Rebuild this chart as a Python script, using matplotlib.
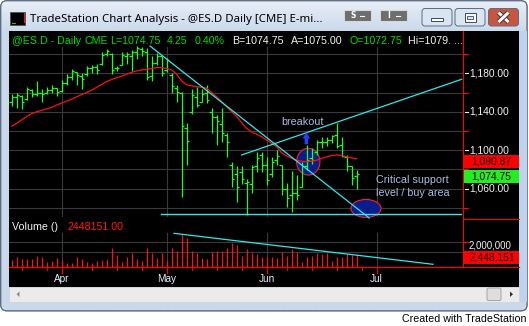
import numpy as np
import matplotlib
matplotlib.use('Agg')
import matplotlib.pyplot as plt
from matplotlib.patches import Rectangle, Ellipse, FancyBboxPatch, FancyArrowPatch, Polygon
import matplotlib.patheffects as pe

# ---------------- data ----------------
highs = [1158, 1160, 1157, 1166, 1164, 1172, 1164, 1166, 1168, 1165,
         1173, 1179, 1184, 1181, 1180, 1188, 1189, 1190, 1202, 1205,
         1201, 1188, 1202, 1202, 1204, 1208, 1207, 1206, 1198, 1201,
         1198, 1196, 1180, 1168, 1161, 1128, 1164, 1166, 1164, 1168,
         1144, 1137, 1144, 1118, 1088, 1083, 1083, 1070, 1085, 1098,
         1098, 1093, 1093, 1100, 1085, 1066, 1078, 1074, 1088, 1105,
         1102, 1111, 1114, 1114, 1116, 1128, 1114, 1095, 1083, 1079.5]
lows = [1146, 1144, 1142.5, 1152, 1155, 1156, 1150, 1158, 1159, 1156,
        1161, 1168, 1173, 1168, 1164, 1177, 1180, 1179, 1189, 1198,
        1179, 1182, 1189, 1190, 1182, 1195, 1198, 1173, 1172, 1189,
        1177, 1181, 1159, 1150, 1051, 1085, 1138, 1145, 1150, 1149,
        1118, 1105, 1109, 1093, 1062, 1046, 1065, 1033, 1055, 1077,
        1077, 1064, 1072, 1085, 1053, 1041, 1036, 1048, 1062, 1079,
        1086, 1095, 1102, 1104, 1107, 1102, 1093, 1078, 1064, 1060]
opens = [1150, 1155, 1156, 1153, 1163, 1158, 1160, 1159, 1163, 1165,
         1162, 1170, 1176, 1181, 1177, 1179, 1186, 1187, 1190, 1200,
         1200, 1186, 1189, 1198, 1198, 1202, 1205, 1202, 1177, 1191,
         1198, 1183, 1178, 1165, 1159, 1123, 1140, 1155, 1150, 1160,
         1140, 1135, 1127, 1116, 1085, 1075, 1077, 1066, 1065, 1083,
         1095, 1085, 1075, 1090, 1085, 1060, 1053, 1055, 1062, 1083,
         1092, 1098, 1108, 1109, 1111, 1116, 1105, 1093, 1083, 1072.75]
closes = [1155, 1157, 1150, 1164, 1158, 1160, 1158, 1163, 1165, 1161,
          1170, 1176, 1182, 1178, 1174, 1186, 1187, 1183, 1199, 1203,
          1183, 1186, 1199, 1200, 1202, 1206, 1203, 1176, 1191, 1198,
          1180, 1194, 1167, 1161, 1125, 1110, 1157, 1147, 1158, 1152,
          1134, 1130, 1118, 1108, 1070, 1062, 1070, 1067, 1082, 1092,
          1085, 1069, 1088, 1094, 1060, 1050, 1055, 1053, 1083, 1090,
          1090, 1108, 1109, 1111, 1115, 1104, 1094, 1083, 1071, 1074.75]
ma = [1125, 1128, 1131.5, 1135, 1138, 1140, 1141.5, 1143, 1144.5, 1147,
      1149, 1151, 1153, 1155.5, 1158, 1160, 1162.5, 1165.5, 1168.5, 1171.5,
      1173.5, 1175.5, 1177, 1179, 1181, 1182.5, 1183.5, 1184, 1185, 1186,
      1186, 1185, 1183.5, 1179, 1172, 1168, 1167, 1166, 1165.5, 1164.5,
      1160, 1155.5, 1150.5, 1145, 1140, 1135, 1128.5, 1122.5, 1119, 1116.5,
      1114, 1110.5, 1107, 1103.5, 1097, 1094, 1091.5, 1089.5, 1088.5, 1088,
      1088.5, 1089.5, 1091.5, 1093, 1094.5, 1095, 1094.5, 1093, 1092, 1090.9]
volume_m = [0.89, 1.33, 1.03, 0.97, 1.03, 1.43, 1.24, 0.67, 0.80, 1.11,
            0.89, 0.44, 0.53, 1.33, 0.97, 0.67, 0.53, 0.80, 0.89, 0.97,
            2.53, 1.60, 0.67, 1.33, 1.77, 1.03, 0.80, 2.53, 1.87, 1.11,
            1.87, 0.89, 2.53, 2.13, 4.31, 3.87, 2.13, 1.77, 1.20, 1.03,
            2.00, 2.09, 2.13, 2.53, 3.20, 2.89, 1.43, 2.40, 1.77, 1.69,
            1.24, 1.33, 1.24, 1.20, 1.91, 1.43, 2.31, 1.91, 0.67, 1.24,
            1.43, 1.77, 1.69, 1.77, 0.80, 1.24, 1.33, 1.64, 1.56, 1.64]
month_idx = [10, 31, 51, 73]
month_labels = ['Apr', 'May', 'Jun', 'Jul']
week_idx = [2, 7, 16, 21, 26, 36, 41, 46, 55, 60, 65, 70]
price_labels = [1180, 1140, 1100, 1060]
price_minor = [1200, 1160, 1120, 1080, 1040]
price_grid = [1040, 1060, 1080, 1100, 1120, 1140, 1160, 1180, 1200]
vol_grid = [2.0, 3.33]
down_x, down_y = [27.66, 71.5], [1208.4, 1029.4]
chan_x, chan_y = [46.0, 90.0], [1095.0, 1173.8]
supp_x, supp_y = [29.86, 89.86], [1033.2, 1033.2]
vtrend_x, vtrend_y = [32.46, 84.26], [4.45, 0.32]
last_price = 1074.75
ma_last = 1090.87
vol_last = 2448151

# ---------------- figure ----------------
W, H = 529, 326
fig = plt.figure(figsize=(W / 100, H / 100), dpi=100)
fig.patch.set_facecolor('white')
bg = fig.add_axes([0, 0, 1, 1])
bg.set_xlim(0, W)
bg.set_ylim(H, 0)
bg.axis('off')


def box(x0, y0, x1, y1):
    return [x0 / W, 1 - y1 / H, (x1 - x0) / W, (y1 - y0) / H]


axp = fig.add_axes(box(9, 31, 463, 219))
axp.set_xlim(-0.54, 90.26)
axp.set_ylim(1028.34, 1224.03)
axp.axis('off')
axv = fig.add_axes(box(9, 219, 463, 266.7))
axv.set_xlim(-0.54, 90.26)
axv.set_ylim(0, 6.36)
axv.axis('off')

inv = bg.transData.inverted()


def py(p):
    return inv.transform(axp.transData.transform((0, p)))[1]


def pyv(v):
    return inv.transform(axv.transData.transform((0, v)))[1]


def px(i):
    return inv.transform(axp.transData.transform((i, 1100)))[0]


renderer = fig.canvas.get_renderer()
FONT = 'Liberation Sans'


def fit_size(s, width, family=FONT):
    t = bg.text(0, 0, s, fontsize=10, family=family)
    w = t.get_window_extent(renderer).width
    t.remove()
    return 10 * width / w

# ---------------- window chrome ----------------
frame = FancyBboxPatch((0.8, 0.8), 526.2, 310, boxstyle='round,pad=0,rounding_size=6',
                       fc='#c9d9eb', ec='#56657a', lw=0.8, zorder=0.4)
bg.add_patch(frame)
grad = np.zeros((311, 1, 3))
top = np.array([0xe8, 0xef, 0xf8]) / 255
bot = np.array([0xcb, 0xda, 0xec]) / 255
rest = np.array([0xc9, 0xd9, 0xeb]) / 255
for r in range(311):
    if r < 31:
        f = r / 30
        grad[r, 0] = top * (1 - f) + bot * f
    else:
        grad[r, 0] = rest
im = bg.imshow(grad, extent=(0.8, 527, 311, 0.8), aspect='auto', zorder=0.5, interpolation='bilinear')
im.set_clip_path(frame)
bg.set_xlim(0, W)
bg.set_ylim(H, 0)
bg.add_patch(FancyBboxPatch((0.8, 0.8), 526.2, 310, boxstyle='round,pad=0,rounding_size=6',
                            fc='none', ec='#56657a', lw=0.8, zorder=0.6))
bg.add_patch(Rectangle((519, 31), 7.5, 271, fc='#bfd4ec', ec='none', zorder=0.7))

# chart area
bg.add_patch(Rectangle((9, 31), 510, 255.5, fc='black', ec='none', zorder=1))
# scrollbar
bg.add_patch(Rectangle((9, 286.5), 510, 15.5, fc='#ebebeb', ec='#d4d4d4', lw=0.5, zorder=1))
bg.add_patch(FancyBboxPatch((487, 288), 14, 12.5, boxstyle='round,pad=0,rounding_size=1.5',
                            fc='#dedede', ec='#9a9a9a', lw=0.6, zorder=1.2))
bg.add_patch(Polygon([[16.5, 294.2], [19.5, 291.5], [19.5, 297]], closed=True, fc='#8a8a8a', ec='none', zorder=1.2))
bg.add_patch(Polygon([[513, 294.2], [510, 291.5], [510, 297]], closed=True, fc='#303030', ec='none', zorder=1.2))

# title bar
bg.add_patch(Rectangle((10, 12), 15, 12.5, fc='black', ec='#505050', lw=0.6, zorder=2))
bg.plot([23.5, 23.5], [12.5, 22], color='#e02020', lw=0.8, zorder=2.1)
bg.plot([12, 14.5], [22.5, 22.5], color='#20c020', lw=0.8, zorder=2.1)
fs_title = fit_size('TradeStation Chart Analysis - @ES.D Daily [CME] E-mi...', 291.6, 'Noto Sans')
bg.text(30.4, 19.2, 'TradeStation Chart Analysis - @ES.D Daily [CME] E-mi...', fontsize=fs_title,
        family='Noto Sans', color='black', va='center', ha='left', zorder=3)
for x0, lab in [(344, 'S'), (379.5, 'I')]:
    bg.add_patch(Rectangle((x0, 10), 27, 11, fc='#6e6e6e', ec='#d8d8d8', lw=0.8, zorder=2))
    bg.text(x0 + 9, 15.7, lab, fontsize=5.5, color='white', family='DejaVu Sans', weight='bold',
            ha='center', va='center', zorder=3)
    bg.plot([x0 + 16, x0 + 20], [15.5, 15.5], color='white', lw=0.8, zorder=3)
for x0, fc in [(422, '#dae5f2'), (455, '#dae5f2'), (488.5, '#c9553f')]:
    bg.add_patch(FancyBboxPatch((x0, 8.5), 30, 17.5, boxstyle='round,pad=0,rounding_size=3',
                                fc=fc, ec='#5b6c80', lw=0.7, zorder=2))
bg.add_patch(Rectangle((431, 18), 12, 3, fc='white', ec='#3c4a5c', lw=0.7, zorder=3))
bg.add_patch(Rectangle((464.5, 12.5), 11, 9, fc='white', ec='#3c4a5c', lw=0.7, zorder=3))
bg.add_patch(Rectangle((467, 15.5), 6, 3.5, fc='#dae5f2', ec='#3c4a5c', lw=0.6, zorder=3.1))
stroke = [pe.Stroke(linewidth=3.6, foreground='#4a2a2a'), pe.Normal()]
bg.plot([498.5, 508.5], [12.5, 22], color='white', lw=2.2, zorder=3, path_effects=stroke, solid_capstyle='butt')
bg.plot([498.5, 508.5], [22, 12.5], color='white', lw=2.2, zorder=3, path_effects=stroke, solid_capstyle='butt')

fs_c = fit_size('Created with TradeStation', 124)
bg.text(527, 319.5, 'Created with TradeStation', fontsize=fs_c, family=FONT, color='black',
        ha='right', va='center', zorder=3)

# ---------------- header / labels ----------------
fs_h = fit_size('A=1075.00', 51.6)
GREEN_T = '#00dd00'
WHITE_T = '#f2f2f2'
for x0, s, c in [(11.7, '@ES.D - Daily', GREEN_T), (84.5, 'CME', GREEN_T), (110, 'L=1074.75', GREEN_T),
                 (167.3, '4.25', GREEN_T), (195, '0.40%', GREEN_T), (231.7, 'B=1074.75', WHITE_T),
                 (290.7, 'A=1075.00', WHITE_T), (349.3, 'O=1072.75', GREEN_T), (408.3, 'Hi=1079. ...', WHITE_T)]:
    bg.text(x0, 41, s, fontsize=fs_h, family=FONT, color=c, ha='left', va='center', zorder=3)

bg.text(11.7, 227, 'Volume ()', fontsize=fs_h, family=FONT, color=WHITE_T, ha='left', va='center', zorder=3)
bg.text(67.7, 227, f'{vol_last}.00', fontsize=fs_h, family=FONT, color='#ff1a1a', ha='left', va='center', zorder=3)

# grid
GRID = '#3a3a3a'
for p in price_grid:
    bg.plot([9, 463], [py(p)] * 2, color=GRID, lw=0.8, zorder=2)
for v in vol_grid:
    bg.plot([9, 463], [pyv(v)] * 2, color=GRID, lw=0.8, zorder=2)
for i in month_idx:
    x = px(i)
    bg.plot([x, x], [46.5, 215.5], color=GRID, lw=0.8, zorder=2)
    bg.plot([x, x], [233, 266.7], color=GRID, lw=0.8, zorder=2)

RED = '#ff0000'
# axes lines
bg.plot([463.3, 463.3], [31, pyv(0)], color=RED, lw=0.8, zorder=4)
bg.plot([9, 519], [pyv(0)] * 2, color=RED, lw=0.9, zorder=4)
bg.plot([463.3, 519], [219.3, 219.3], color=RED, lw=0.8, zorder=4)
for p in price_minor:
    bg.plot([463.3, 468], [py(p)] * 2, color=RED, lw=0.8, zorder=4)
bg.plot([463.3, 468], [pyv(vol_grid[1])] * 2, color=RED, lw=0.8, zorder=4)
for i in month_idx:
    bg.plot([px(i)] * 2, [pyv(0), pyv(0) + 6], color=RED, lw=0.8, zorder=4)
for i in week_idx:
    bg.plot([px(i)] * 2, [pyv(0), pyv(0) + 2.8], color=RED, lw=0.8, zorder=4)

fs_m = fit_size('May', 19.0)
for i, lab in zip(month_idx, month_labels):
    bg.text(px(i), 278.5, lab, fontsize=fs_m, family=FONT, color='#e8eeff', ha='center', va='center', zorder=4)

fs_r = fit_size('1,180.00', 39.7)
for p in price_labels:
    y = py(p)
    bg.plot([464.5, 468], [y, y], color=WHITE_T, lw=0.8, zorder=4)
    bg.text(469.3, y, f'{p:,.2f}', fontsize=fs_r, family=FONT, color=WHITE_T, ha='left', va='center', zorder=4)
bg.text(468.3, 245.3, '2,000,000', fontsize=fs_r * 0.95, family=FONT, color=WHITE_T, ha='left', va='center', zorder=4)

# value boxes (drawn over labels)
for val, fc, txt in [(ma_last, '#ff0000', f'{ma_last:,.2f}'), (last_price, '#22ee22', f'{last_price:,.2f}')]:
    yc = py(val) + 2.3
    bg.add_patch(Rectangle((464, yc - 6.6), 54.5, 13.2, fc=fc, ec='none', zorder=5))
    bg.text(491, yc, txt, fontsize=fs_r, family=FONT, color='#1a0000', ha='center', va='center', zorder=6)
bg.add_patch(Rectangle((464, 250.8), 55, 13.4, fc='#ff0000', ec='none', zorder=5))
bg.text(492, 257.7, f'{vol_last:,}', fontsize=fs_r, family=FONT, color='#1a0000',
        ha='center', va='center', zorder=6)

# annotations text
ANN = '#a9bde3'
fs_a = fit_size('Critical support', 72.3)
bg.text(302.5, 122.3, 'breakout', fontsize=fs_a, family=FONT, color=ANN, ha='center', va='center', zorder=4)
bg.text(376, 179.7, 'Critical support', fontsize=fs_a, family=FONT, color=ANN, ha='left', va='center', zorder=4)
bg.text(376, 192.8, 'level / buy area', fontsize=fs_a, family=FONT, color=ANN, ha='left', va='center', zorder=4)

# ---------------- data layers ----------------
idx = np.arange(len(highs))
axp.add_patch(Ellipse((59.32, 1088.0), 4.66, 27.8, fc='#0b1d8a', ec='#ff2020', lw=0.8, zorder=1))
axp.add_patch(Ellipse((70.86, 1039.3), 6.0, 18.7, fc='#0b1d8a', ec='#ff2020', lw=0.8, zorder=1))

BAR = '#1cff1c'
axp.vlines(idx, lows, highs, colors=BAR, lw=0.9, zorder=2)
axp.hlines(opens, idx - 0.45, idx, colors=BAR, lw=0.9, zorder=2)
axp.hlines(closes, idx, idx + 0.45, colors=BAR, lw=0.9, zorder=2)
axp.plot(idx, ma, color='#ff1010', lw=0.9, zorder=3)

CYAN = '#2ee8ee'
axp.plot(down_x, down_y, color=CYAN, lw=0.9, zorder=4)
axp.plot(chan_x, chan_y, color=CYAN, lw=0.9, zorder=4)
axp.plot(supp_x, supp_y, color=CYAN, lw=1.0, zorder=4)

axp.add_patch(FancyArrowPatch((58.94, 1103.3), (58.94, 1121.5),
                              arrowstyle='simple,head_width=0.55,head_length=0.45,tail_width=0.26',
                              mutation_scale=10, color='#2242ff', lw=0, zorder=5))

axv.vlines(idx, 0, volume_m, colors='#ff1010', lw=0.9, zorder=2)
axv.plot(vtrend_x, vtrend_y, color=CYAN, lw=0.9, zorder=3)

fig.savefig('out.png', dpi=100, facecolor='white')
